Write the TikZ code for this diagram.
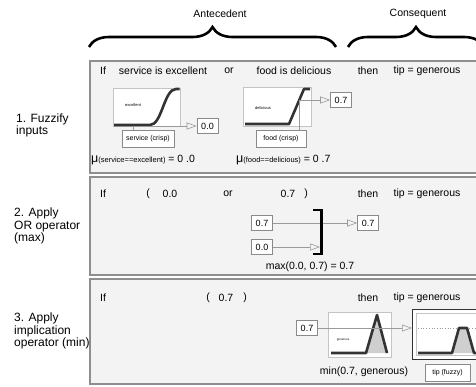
\documentclass[tikz,border=0pt]{standalone}
\usepackage{fontspec}
\setmainfont{Liberation Sans}
\usetikzlibrary{arrows.meta,decorations.pathreplacing}
\definecolor{panelbg}{HTML}{F3F3F3}
\definecolor{panelline}{HTML}{8E8E8E}
\definecolor{boxline}{HTML}{8A8A8A}
\definecolor{mfline}{HTML}{C4C4C4}
\definecolor{curvec}{HTML}{333333}
\definecolor{connc}{HTML}{9A9A9A}
\definecolor{fillgray}{HTML}{CFCFCF}
\begin{document}
\begin{tikzpicture}[x=1pt,y=-1pt,
 txt/.style={inner sep=0pt, font=\fontsize{10.5}{12}\selectfont},
 side/.style={anchor=west, align=left, inner sep=0pt, font=\fontsize{12}{12.5}\selectfont},
 panel/.style={draw=panelline, fill=panelbg, line width=1.5pt},
 valbox/.style={draw=boxline, fill=white, line width=0.6pt, minimum width=21pt, minimum height=15pt, inner sep=0pt, font=\fontsize{9}{10}\selectfont},
 crispbox/.style={draw=boxline, fill=white, line width=0.6pt, minimum height=17pt, inner sep=0pt, font=\fontsize{7}{8}\selectfont},
 mfbox/.style={draw=mfline, fill=white, line width=0.6pt, inner sep=0pt},
 mfcurve/.style={draw=curvec, line width=2.6pt, line join=round},
 connline/.style={draw=connc, line width=0.6pt},
 connarrow/.style={connline, -{Triangle[open, length=10pt, width=7pt]}},
 brc/.style={draw=black, decorate, decoration={brace, amplitude=20pt}, line width=2.6pt},
 tinylbl/.style={inner sep=0pt, font=\fontsize{4}{4}\selectfont},
]
\useasboundingbox (0,0) rectangle (476,386);
\clip (0,0) rectangle (476,386);

% headings and braces
\node[txt] (ante) at (220,14) {Antecedent};
\node[txt] (cons) at (418,14) {Consequent};
\draw[brc] (89,47) -- (336,47);
\draw[brc] (348,47) -- (484,47);

% panels
\path[panel] (90,61) rectangle (484,173);
\path[panel] (90,177) rectangle (484,275);
\path[panel] (90,279) rectangle (484,384);

% side labels
\node[side] (s1) at (16,125.5) {1. Fuzzify\\inputs};
\node[side] (s2) at (14,226) {2. Apply\\OR operator\\(max)};
\node[side] (s3) at (14,331) {3. Apply\\implication\\operator (min)};

% ---------- panel 1 ----------
\node[txt] (if1) at (103,71) {If};
\node[txt] (ant1) at (163,71) {service is excellent};
\node[txt] (or1) at (229,71) {or};
\node[txt] (ant2) at (294,71) {food is delicious};
\node[txt] (then1) at (368,71) {then};
\node[txt] (tip1) at (427,71) {tip = generous};

\node[mfbox, minimum width=67pt, minimum height=38pt] (mfs) at (146.5,107) {};
\node[tinylbl] (lbls) at (133,105) {excellent};
\draw[mfcurve] (114,125) -- (150,125) .. controls (162,125) and (164,89) .. (176,89) -- (179.5,89);
\node[crispbox, minimum width=52pt] (scr) at (148,138.5) {service (crisp)};
\node[valbox] (v1) at (207.5,126) {0.0};
\coordinate (sx) at (133,126);
\draw[connline] (scr.north -| sx) -- (sx);
\draw[connarrow] (sx) -- (v1.west);
\node[anchor=west, inner sep=0pt] (mu1) at (91,160) {\fontsize{12.5}{12}\selectfont μ\fontsize{7.5}{9}\selectfont(service==excellent)\fontsize{10.5}{12}\selectfont{} = 0 .0};

\node[mfbox, minimum width=68pt, minimum height=39pt] (mff) at (277,106.5) {};
\node[tinylbl] (lblf) at (263,108) {delicious};
\draw[mfcurve] (245,124) -- (289,124) -- (304,89) -- (310,89);
\node[crispbox, minimum width=50pt] (fcr) at (281,138.5) {food (crisp)};
\node[valbox] (v2) at (341,100) {0.7};
\coordinate (fx) at (299,100);
\draw[connline] (fcr.north -| fx) -- (fx);
\draw[connarrow] (fx) -- (v2.west);
\node[anchor=west, inner sep=0pt] (mu2) at (236,160) {\fontsize{12.5}{12}\selectfont μ\fontsize{7.5}{9}\selectfont(food==delicious)\fontsize{10.5}{12}\selectfont{} = 0 .7};

% ---------- panel 2 ----------
\node[txt] (if2) at (103,194) {If};
\node[txt] (lp2) at (148,194) {(};
\node[txt] (a2) at (170,194) {0.0};
\node[txt] (or2) at (228,194) {or};
\node[txt] (b2) at (288,194) {0.7};
\node[txt] (rp2) at (306,194) {)};
\node[txt] (then2) at (368,194) {then};
\node[txt] (tip2) at (427,194) {tip = generous};

\node[valbox] (b7) at (262,223) {0.7};
\node[valbox] (b0) at (262,247) {0.0};
\node[valbox] (bo) at (368,223) {0.7};
\coordinate (brk) at (320,247);
\draw[connarrow] (b7.east) -- (bo.west);
\draw[connarrow] (b0.east) -- (b0.east -| brk);
\draw[line width=2.8pt] (313,210) -- (321.5,210) -- (321.5,254) -- (313,254);
\node[txt] (max2) at (310,267) {max(0.0, 0.7) = 0.7};

% ---------- panel 3 ----------
\node[txt] (if3) at (103,298) {If};
\node[txt] (lp3) at (208,298) {(};
\node[txt] (a3) at (226,298) {0.7};
\node[txt] (rp3) at (245,298) {)};
\node[txt] (then3) at (368,298) {then};
\node[txt] (tip3) at (427,298) {tip = generous};

\node[valbox] (c7) at (307,328) {0.7};
\node[mfbox, minimum width=63pt, minimum height=45pt] (mfg) at (359.5,334.5) {};
\fill[fillgray] (366,353) -- (377,315) -- (387,353) -- cycle;
\draw[mfcurve] (331,353) -- (366,353) -- (377,315) -- (387,353);
\node[tinylbl, font=\fontsize{3}{3}\selectfont] (lblg) at (343,340) {generous};

\node[draw=curvec, line width=1.3pt, fill=white, minimum width=72pt, minimum height=50pt, anchor=north west, inner sep=0pt] (outb) at (412,309) {};
\draw[mfline, line width=0.6pt] (416,313) rectangle (490,355);
\draw[connc, dotted, line width=0.7pt] (418,328) -- (476,328);
\fill[fillgray] (452,353) -- (459,328) -- (467,328) -- (474,353) -- cycle;
\draw[mfcurve] (418,353) -- (452,353) -- (459,328) -- (467,328) -- (474,353) -- (480,353);

\draw[connarrow] (c7.east) -- (outb.west |- c7.east);
\node[txt] (min3) at (364,372) {min(0.7, generous)};
\node[crispbox, minimum width=45pt] (tfz) at (447.5,372.5) {tip (fuzzy)};
\end{tikzpicture}
\end{document}
